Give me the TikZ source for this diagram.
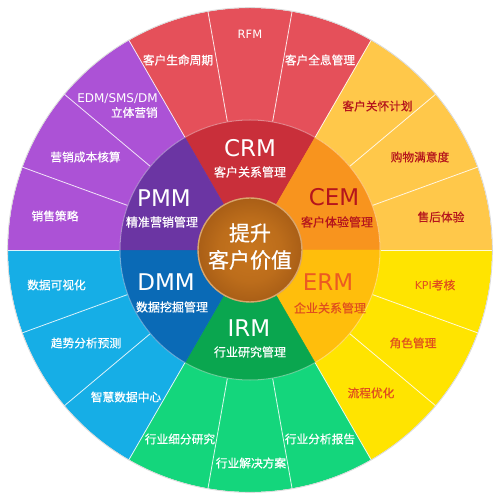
\documentclass[tikz,border=0pt]{standalone}
\usepackage{fontspec}
\newfontfamily\cjk{Noto Sans CJK SC}[FakeBold=0.6]
\newfontfamily\lat{DejaVu Sans}
\definecolor{crmA}{HTML}{E5505A}\definecolor{crmB}{HTML}{CF3640}\definecolor{crmI}{HTML}{C92F3A}
\definecolor{cemA}{HTML}{FFC84A}\definecolor{cemB}{HTML}{F69C34}\definecolor{cemI}{HTML}{F8941E}
\definecolor{ermA}{HTML}{FFE400}\definecolor{ermB}{HTML}{FFC800}\definecolor{ermI}{HTML}{FFBE0C}
\definecolor{irmA}{HTML}{14D67C}\definecolor{irmB}{HTML}{04AE60}\definecolor{irmI}{HTML}{0AA64F}
\definecolor{dmmA}{HTML}{16AEE6}\definecolor{dmmB}{HTML}{0A7CC8}\definecolor{dmmI}{HTML}{0A6AB6}
\definecolor{pmmA}{HTML}{AC52D6}\definecolor{pmmB}{HTML}{8438BA}\definecolor{pmmI}{HTML}{6B35A3}
\definecolor{cenA}{HTML}{C8761E}\definecolor{cenB}{HTML}{7A3A0A}\definecolor{cenR}{HTML}{D9A56C}
\definecolor{cemT}{HTML}{B5141C}\definecolor{ermT}{HTML}{EC5A22}\definecolor{ermS}{HTML}{E04E1E}
\pgfdeclareradialshading{shcrm}{\pgfpointorigin}{color(0bp)=(crmA); color(27bp)=(crmA); color(50bp)=(crmB)}
\pgfdeclareradialshading{shcem}{\pgfpointorigin}{color(0bp)=(cemA); color(27bp)=(cemA); color(50bp)=(cemB)}
\pgfdeclareradialshading{sherm}{\pgfpointorigin}{color(0bp)=(ermA); color(27bp)=(ermA); color(50bp)=(ermB)}
\pgfdeclareradialshading{shirm}{\pgfpointorigin}{color(0bp)=(irmA); color(27bp)=(irmA); color(50bp)=(irmB)}
\pgfdeclareradialshading{shdmm}{\pgfpointorigin}{color(0bp)=(dmmA); color(27bp)=(dmmA); color(50bp)=(dmmB)}
\pgfdeclareradialshading{shpmm}{\pgfpointorigin}{color(0bp)=(pmmA); color(27bp)=(pmmA); color(50bp)=(pmmB)}
\pgfdeclareradialshading{shcen}{\pgfpointorigin}{color(0bp)=(cenA); color(15bp)=(cenA!85!cenB); color(50bp)=(cenB)}
\newcommand\mysector[4]{%
  \begin{scope}
    \clip (#1:130pt) arc[start angle=#1,end angle=#2,radius=130pt] -- (#2:242pt)
      arc[start angle=#2,end angle=#1,radius=242pt] -- cycle;
    \shade[shading=#3] (0,0) circle[radius=242pt];
  \end{scope}
  \fill[#4, draw=#4, line width=0.4pt] (0,0) -- (#1:130pt) arc[start angle=#1,end angle=#2,radius=130pt] -- cycle;
}
\tikzset{
  bigl/.style={font=\lat\fontsize{23}{23}\selectfont, inner sep=0pt},
  subl/.style={font=\cjk\fontsize{12}{12}\selectfont, inner sep=0pt},
  outl/.style={font=\cjk\fontsize{11.7}{11.7}\selectfont, inner sep=0pt},
  sepline/.style={white, line width=0.8pt, opacity=0.85},
}
\begin{document}
\begin{tikzpicture}[x=1pt,y=1pt]
\useasboundingbox (-250,-250) rectangle (250,250);
\fill[white] (-250,-250) rectangle (250,250);
% sectors
\mysector{60}{120}{shcrm}{crmI}
\mysector{0}{60}{shcem}{cemI}
\mysector{-60}{0}{sherm}{ermI}
\mysector{-120}{-60}{shirm}{irmI}
\mysector{180}{240}{shdmm}{dmmI}
\mysector{120}{180}{shpmm}{pmmI}
\draw[black!15, line width=0.8pt] (0,0) circle[radius=242.4pt];
\draw[white, opacity=0.35, line width=1pt] (0,0) circle[radius=130pt];
\foreach \a in {0,20,...,340} \draw[sepline] (\a:130.5pt) -- (\a:242pt);
% centre
\shade[shading=shcen] (0,0) circle[radius=52pt];
\draw[cenR, line width=1.4pt] (0,0) circle[radius=52pt];
\node[font=\cjk\fontsize{21}{27}\selectfont, text=white, align=center, inner sep=0pt] (cen) at (0,3.5) {提升\\客户价值};
% inner labels
\node[bigl, text=white] (crm) at (0,102) {CRM};
\node[subl, text=white] (crms) at (0,78) {客户关系管理};
\node[bigl, text=cemT] (cem) at (84,53) {CEM};
\node[subl, text=cemT] (cems) at (87,28) {客户体验管理};
\node[bigl, text=ermT] (erm) at (78,-32) {ERM};
\node[subl, text=ermS] (erms) at (80,-58) {企业关系管理};
\node[bigl, text=white] (irm) at (-1,-78) {IRM};
\node[subl, text=white] (irms) at (0,-102) {行业研究管理};
\node[bigl, text=white] (dmm) at (-84,-32) {DMM};
\node[subl, text=white] (dmms) at (-78,-57) {数据挖掘管理};
\node[bigl, text=white] (pmm) at (-86,52) {PMM};
\node[subl, text=white] (pmms) at (-88,28) {精准营销管理};
% outer labels CRM
\node[outl, text=white] (c1) at (-72,190) {客户生命周期};
\node[font=\lat\fontsize{11.5}{11.5}\selectfont, text=white, inner sep=0pt] (c2) at (0,216) {RFM};
\node[outl, text=white] (c3) at (70,190) {客户全息管理};
% CEM
\node[outl, text=cemT] (e1) at (127.5,144) {客户关怀计划};
\node[outl, text=cemT] (e2) at (170,93) {购物满意度};
\node[outl, text=cemT] (e3) at (191,33) {售后体验};
% ERM
\node[outl, text=ermS] (r1) at (185,-35) {{\lat\fontsize{11}{11}\selectfont KPI}考核};
\node[outl, text=ermS] (r2) at (163,-93) {角色管理};
\node[outl, text=ermS] (r3) at (121,-143) {流程优化};
% IRM
\node[outl, text=white] (i1) at (70,-189) {行业分析报告};
\node[outl, text=white] (i2) at (1,-213) {行业解决方案};
\node[outl, text=white] (i3) at (-70,-189) {行业细分研究};
% DMM
\node[outl, text=white] (d1) at (-193.5,-35) {数据可视化};
\node[outl, text=white] (d2) at (-164,-93) {趋势分析预测};
\node[outl, text=white] (d3) at (-124,-147) {智慧数据中心};
% PMM
\node[outl, text=white] (p1) at (-195,34) {销售策略};
\node[outl, text=white] (p2) at (-164.5,93) {营销成本核算};
\node[text=white, align=right, inner sep=0pt, font=\lat\fontsize{12}{14}\selectfont] (p3) at (-132.5,144) {EDM/SMS/DM\\{\cjk\fontsize{11.7}{14}\selectfont 立体营销}};
\end{tikzpicture}
\end{document}
